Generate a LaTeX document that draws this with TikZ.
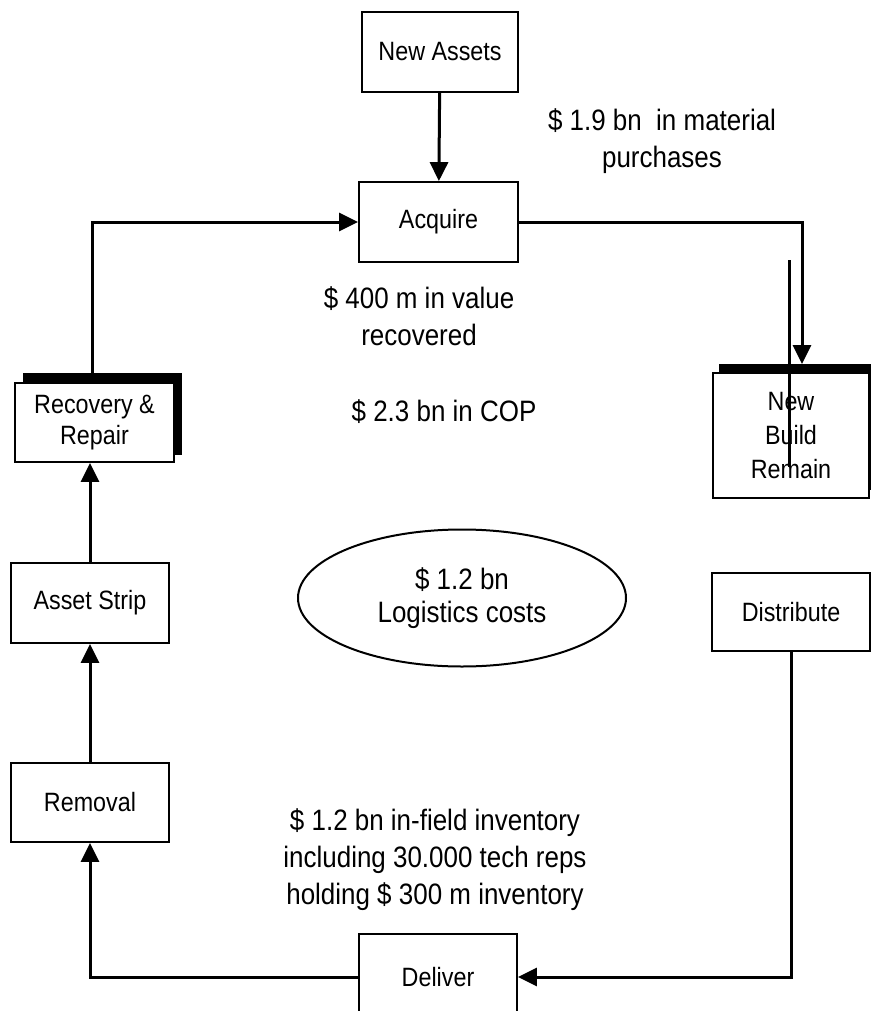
\documentclass[tikz,border=0pt]{standalone}
\usepackage{fontspec}
\setmainfont{Liberation Sans}[FakeStretch=0.88]
\usetikzlibrary{arrows.meta,shapes.geometric}
\begin{document}
\begin{tikzpicture}[x=1pt,y=-1pt,
  box/.style={draw,line width=1.8pt,fill=white,inner sep=0pt,align=center,
    font=\fontsize{26.5}{32}\selectfont},
  freetext/.style={align=center,inner sep=0pt,font=\fontsize{29.5}{37}\selectfont},
  conn/.style={line width=3pt},
  arr/.style={conn,-{Triangle[length=19pt,width=18pt]}},
  shadow/.style={fill=black}]
\useasboundingbox (0,0) rectangle (871,1011);
% shadows
\fill[shadow] (23,373) rectangle (182,455);
\fill[shadow] (719,364) rectangle (871,490);
% boxes
\node[box,minimum width=156pt,minimum height=80pt] (newassets) at (440,52) {New Assets};
\node[box,minimum width=159pt,minimum height=80pt] (acquire) at (438.5,222) {Acquire};
\node[box,minimum width=156pt,minimum height=125pt,font=\fontsize{26.5}{34}\selectfont] (newbuild) at (791,435.5) {New\\Build\\Remain};
\node[box,minimum width=158pt,minimum height=78pt] (distribute) at (791,612) {Distribute};
\node[box,minimum width=158pt,minimum height=86pt] (deliver) at (438,977) {Deliver};
\node[box,minimum width=158pt,minimum height=79pt] (removal) at (90,802.5) {Removal};
\node[box,minimum width=158pt,minimum height=80pt] (asset) at (90,603) {Asset Strip};
\node[box,minimum width=159pt,minimum height=79pt,font=\fontsize{26.5}{31}\selectfont] (recovery) at (94.5,422.5) {Recovery \&\\Repair};
\node[draw,ellipse,line width=2pt,minimum width=328pt,minimum height=137pt,inner sep=0pt,
  align=center,font=\fontsize{29.5}{33}\selectfont] (logistics) at (462,598) {\$ 1.2 bn\\Logistics costs};
% free texts
\node[freetext] (t19) at (662,141) {\$ 1.9 bn\ \ in material\\purchases};
\node[freetext] (t400) at (419,316) {\$ 400 m in value\\recovered};
\node[freetext] (t23) at (444,412) {\$ 2.3 bn in COP};
\node[freetext] (tinv) at (435,860) {\$ 1.2 bn in-field inventory\\including 30.000 tech reps\\holding \$ 300 m inventory};
% connector end points
\coordinate (nbrin) at (802,364);
\coordinate (rectop) at (92,373);
\coordinate (xl1) at (789,260);
\coordinate (xl2) at (789,467);
% connectors
\draw[arr] (newassets) -- (acquire);
\draw[arr] (acquire.east) -| (nbrin);
\draw[arr] (rectop) |- (acquire.west);
\draw[arr] (asset.north) -- (asset.north |- recovery.south);
\draw[arr] (removal.north) -- (removal.north |- asset.south);
\draw[arr] (deliver.west) -| (removal.south);
\draw[arr] (distribute.south) |- (deliver.east);
\draw[conn] (xl1) -- (xl2);
\end{tikzpicture}
\end{document}
